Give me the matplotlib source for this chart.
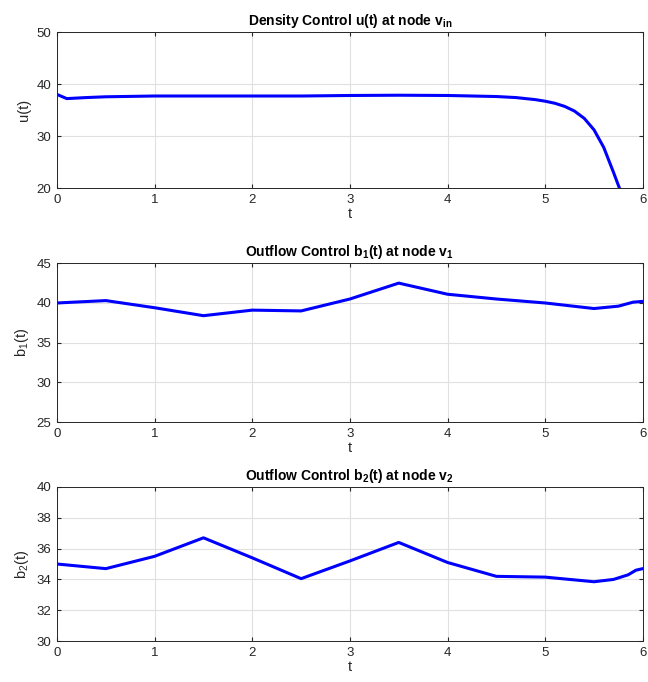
import numpy as np
import matplotlib
matplotlib.use('Agg')
import matplotlib.pyplot as plt

plt.rcParams['font.family'] = ['Liberation Sans', 'DejaVu Sans']
plt.rcParams['mathtext.fontset'] = 'custom'
plt.rcParams['mathtext.rm'] = 'Liberation Sans'
plt.rcParams['mathtext.it'] = 'Liberation Sans'
plt.rcParams['mathtext.bf'] = 'Liberation Sans:bold'

# === data ===
t_u = [0.0, 0.1, 0.3, 0.5, 1.0, 1.5, 2.0, 2.5, 3.0, 3.5, 4.0, 4.5, 4.7, 4.9,
       5.0, 5.1, 5.2, 5.3, 5.4, 5.5, 5.6, 5.7, 5.76]
u_vals = [38.0, 37.2, 37.4, 37.55, 37.7, 37.7, 37.7, 37.7, 37.8, 37.85, 37.8, 37.6,
          37.4, 37.0, 36.7, 36.3, 35.7, 34.8, 33.4, 31.2, 27.8, 23.0, 20.0]

t_b1 = [0.0, 0.5, 1.0, 1.5, 2.0, 2.5, 3.0, 3.5, 4.0, 4.5, 5.0, 5.5, 5.75, 5.9, 6.0]
b1_vals = [40.0, 40.3, 39.4, 38.4, 39.1, 39.0, 40.5, 42.5, 41.1, 40.5, 40.0, 39.3,
           39.6, 40.1, 40.2]

t_b2 = [0.0, 0.5, 1.0, 1.5, 2.0, 2.5, 3.0, 3.5, 4.0, 4.5, 5.0, 5.5, 5.7, 5.85,
        5.93, 6.0]
b2_vals = [35.0, 34.7, 35.5, 36.7, 35.4, 34.05, 35.2, 36.4, 35.1, 34.2, 34.15, 33.85,
           34.0, 34.3, 34.6, 34.7]

panels = [
    (t_u, u_vals, r'Density Control u(t) at node v$_\mathbf{in}$', 'u(t)',
     (20, 50), [20, 30, 40, 50]),
    (t_b1, b1_vals, r'Outflow Control b$_\mathbf{1}$(t) at node v$_\mathbf{1}$',
     r'b$_1$(t)', (25, 45), [25, 30, 35, 40, 45]),
    (t_b2, b2_vals, r'Outflow Control b$_\mathbf{2}$(t) at node v$_\mathbf{2}$',
     r'b$_2$(t)', (30, 40), [30, 32, 34, 36, 38, 40]),
]

# axes boxes in figure fractions [left, bottom, width, height]
boxes = [
    [0.088, 0.7243, 0.904, 0.2287],
    [0.088, 0.381, 0.904, 0.233],
    [0.088, 0.060, 0.904, 0.226],
]

fig = plt.figure(figsize=(6.48, 6.82), dpi=100)

for box, (t, y, title, ylab, ylim, yticks) in zip(boxes, panels):
    ax = fig.add_axes(box)
    ax.plot(t, y, color='#0000ff', linewidth=2.2)
    ax.set_xlim(0, 6)
    ax.set_ylim(*ylim)
    ax.set_xticks(range(7))
    ax.set_yticks(yticks)
    ax.grid(True, color='#e0e0e0', linewidth=0.8)
    ax.set_axisbelow(True)
    ax.tick_params(direction='in', length=3, labelsize=9.5, colors='#262626',
                   top=True, right=True, pad=4)
    for s in ax.spines.values():
        s.set_color('#262626')
        s.set_linewidth(0.7)
    ax.set_title(title, fontsize=10, fontweight='bold', pad=5)
    ax.set_xlabel('t', fontsize=10.5, color='#262626', labelpad=1)
    ax.set_ylabel(ylab, fontsize=10.5, color='#262626', labelpad=4)

fig.savefig('out.png', dpi=100)
